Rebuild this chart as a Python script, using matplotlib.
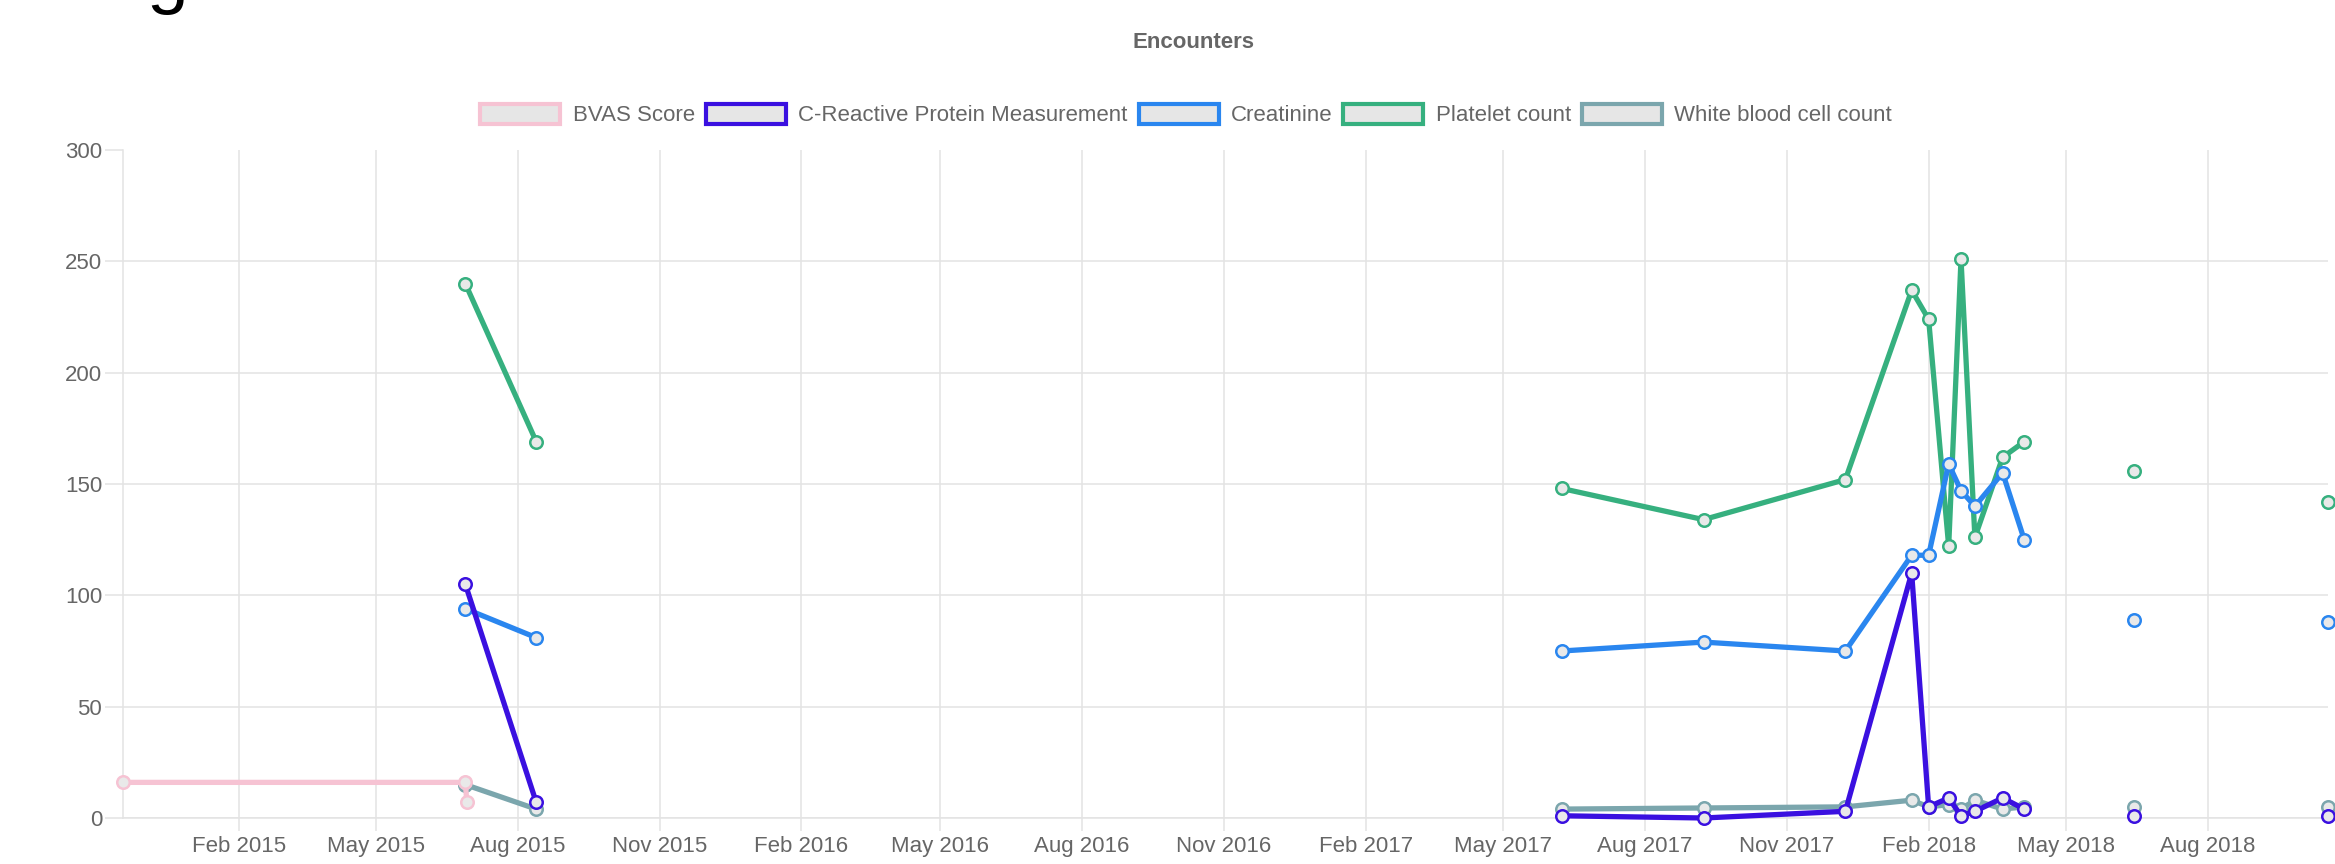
import pandas as pd
import matplotlib.pyplot as plt
import matplotlib.dates as mdates
from matplotlib.patches import Patch

plt.rcParams['font.family'] = ['Liberation Sans', 'DejaVu Sans']

# series data (None = no value -> line break, like Chart.js nulls)
bvas_dates = ["2014-11-18", "2015-06-28", "2015-06-29"]
bvas_vals = [16, 16, 7]

lab_dates = ["2015-06-28", "2015-08-13", "2016-07-01", "2017-06-08", "2017-09-08",
             "2017-12-09", "2018-01-21", "2018-02-01", "2018-02-14", "2018-02-22",
             "2018-03-03", "2018-03-21", "2018-04-04", "2018-05-10", "2018-06-14",
             "2018-08-15", "2018-10-18"]
crp_vals = [105, 7, None, 1, 0, 3, 110, 5, 9, 1, 3, 9, 4, None, 1, None, 1]
creat_vals = [94, 81, None, 75, 79, 75, 118, 118, 159, 147, 140, 155, 125, None, 89, None, 88]
plt_vals = [240, 169, None, 148, 134, 152, 237, 224, 122, 251, 126, 162, 169, None, 156, None, 142]
wbc_vals = [15, 4, None, 4, 4.5, 5, 8, 5, 6, 4, 8, 4, 5, None, 5, None, 5]

names = ["BVAS Score", "C-Reactive Protein Measurement", "Creatinine",
         "Platelet count", "White blood cell count"]
colors = ["#f6c3d3", "#3a10e0", "#2a86ef", "#36b07f", "#7ba6ad"]
series = [(bvas_dates, bvas_vals), (lab_dates, crp_vals), (lab_dates, creat_vals),
          (lab_dates, plt_vals), (lab_dates, wbc_vals)]

y_ticks = [0, 50, 100, 150, 200, 250, 300]

grid_c = "#e3e3e3"
text_c = "#666666"

fig = plt.figure(figsize=(23.35, 8.64), dpi=100)
ax = fig.add_axes([123 / 2335, 46 / 864, (2328 - 123) / 2335, (818 - 150) / 864])

all_dates = []
for i, ((d, v), c) in enumerate(zip(series, colors)):
    x = pd.to_datetime(d)
    y = pd.Series(v, dtype="float")
    all_dates.extend(x)
    ax.plot(x, y, color=c, lw=3.8, marker="o", markersize=9,
            markerfacecolor="#e9e9e9", markeredgecolor=c, markeredgewidth=1.8,
            zorder=10 - i, clip_on=False)

ax.set_xlim(min(all_dates), max(all_dates))
ax.set_ylim(0, 300)
ax.set_yticks(y_ticks)
ax.xaxis.set_major_locator(mdates.MonthLocator(bymonth=[2, 5, 8, 11]))
ax.xaxis.set_major_formatter(mdates.DateFormatter("%b %Y"))

ax.grid(True, color=grid_c, lw=1.1)
ax.get_ygridlines()[-1].set_visible(False)
for s in ["top", "right"]:
    ax.spines[s].set_visible(False)
for s in ["left", "bottom"]:
    ax.spines[s].set_color(grid_c)
    ax.spines[s].set_linewidth(1.1)
ax.tick_params(axis="y", length=13, width=1.1, color=grid_c, pad=2,
               labelsize=16, labelcolor=text_c)
ax.tick_params(axis="x", length=9, width=1.1, color=grid_c, pad=4,
               labelsize=16, labelcolor=text_c)

fig.text(0.511, 0.951, "Encounters", ha="center", va="center",
         fontsize=16, fontweight="bold", color=text_c)

handles = [Patch(facecolor="#e6e6e6", edgecolor=c, linewidth=3) for c in colors]
fig.legend(handles, names, loc="center", bbox_to_anchor=(0.508, 0.867), ncol=5,
           frameon=False, fontsize=16, labelcolor=text_c, handlelength=3.6,
           handleheight=1.0, handletextpad=0.55, columnspacing=0.5)

# cut-off heading letter at top edge of the screenshot
fig.text(147 / 2335, 1.0, "g", fontsize=54, va="baseline", ha="left", color="black")

fig.savefig("out.png", dpi=100)
